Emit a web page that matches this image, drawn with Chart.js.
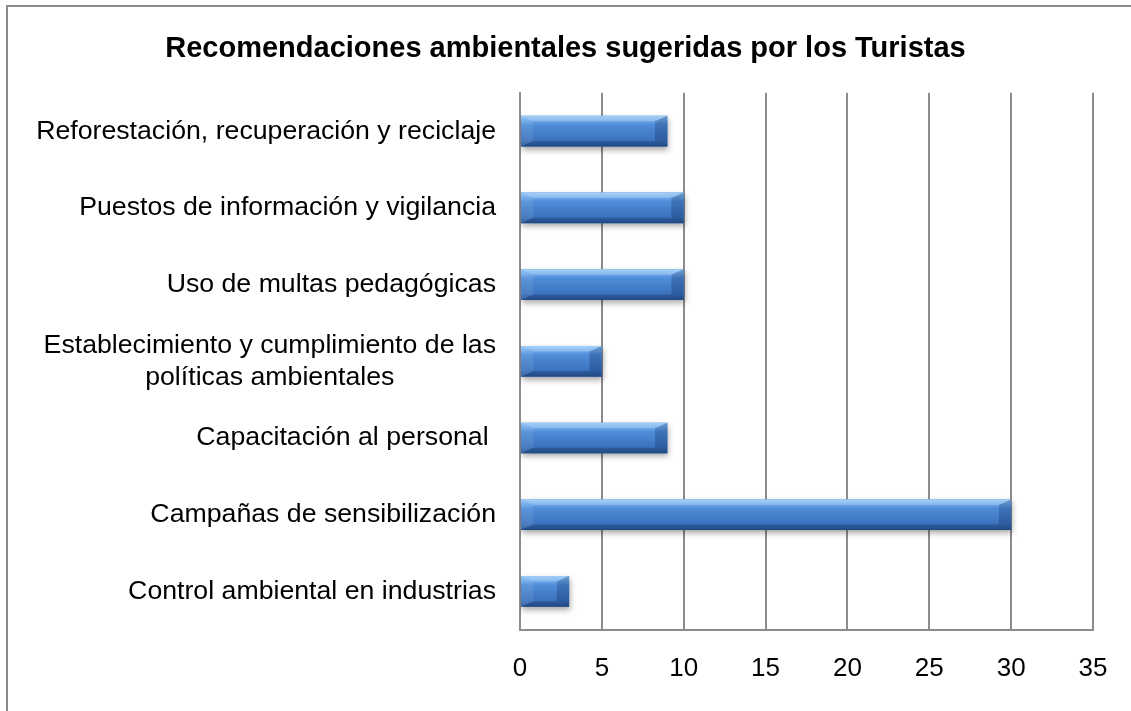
<!DOCTYPE html>
<html>
<head>
<meta charset="utf-8">
<script src="https://cdn.jsdelivr.net/npm/chart.js@4.4.1/dist/chart.umd.min.js"></script>
<style>
  html, body { margin: 0; padding: 0; background: #fff; overflow: hidden; }
  #frame { position: absolute; left: 6px; top: 5px; width: 1300px; height: 900px; border: 2px solid #8a8a8a; }
  #chart { position: absolute; left: 0; top: 0; }
</style>
</head>
<body>
<div id="frame"></div>
<canvas id="chart" width="1131" height="711"></canvas>
<script>
// datos
const titulo = "Recomendaciones ambientales sugeridas por los Turistas";
const categorias = [
    "Reforestación, recuperación y reciclaje",
    "Puestos de información y vigilancia",
    "Uso de multas pedagógicas",
    ["Establecimiento y cumplimiento de las", "políticas ambientales"],
    "Capacitación al personal ",
    "Campañas de sensibilización",
    "Control ambiental en industrias"
];
const valores = [9, 10, 10, 5, 9, 30, 3];
const ejeMin = 0, ejeMax = 35, ejePaso = 5;

const FONT = "'Liberation Sans', Arial, sans-serif";
const GRIS = "#8c8c8c";

// sombra debajo de las barras
const sombraPlugin = {
    id: 'sombra',
    beforeDatasetDraw(chart) {
        const ctx = chart.ctx;
        ctx.save();
        ctx.shadowColor = 'rgba(0,0,0,0.35)';
        ctx.shadowBlur = 6;
        ctx.shadowOffsetX = 1;
        ctx.shadowOffsetY = 3;
    },
    afterDatasetDraw(chart) { chart.ctx.restore(); }
};

// efecto bisel tipo Excel encima de cada barra
const biselPlugin = {
    id: 'bisel',
    afterDatasetsDraw(chart) {
        const ctx = chart.ctx;
        chart.getDatasetMeta(0).data.forEach(bar => {
            const p = bar.getProps(['x', 'y', 'base', 'height'], true);
            const x0 = Math.min(p.base, p.x), x1 = Math.max(p.base, p.x);
            const y0 = p.y - p.height / 2, y1 = p.y + p.height / 2;
            const b = Math.min(p.height * 0.4, (x1 - x0) / 2);
            ctx.save();
            const g = ctx.createLinearGradient(0, y0, 0, y1);
            g.addColorStop(0, '#8ec4f6');
            g.addColorStop(0.12, '#76b0ee');
            g.addColorStop(0.3, '#4f8cd8');
            g.addColorStop(0.8, '#3b72bd');
            g.addColorStop(1, '#2a5692');
            ctx.fillStyle = g;
            ctx.fillRect(x0, y0, x1 - x0, y1 - y0);
            const poly = (pts, col) => {
                ctx.beginPath();
                ctx.moveTo(pts[0][0], pts[0][1]);
                for (let i = 1; i < pts.length; i++) ctx.lineTo(pts[i][0], pts[i][1]);
                ctx.closePath();
                ctx.fillStyle = col; ctx.fill();
            };
            poly([[x0, y0], [x1, y0], [x1 - b, y0 + b * 0.45], [x0 + b, y0 + b * 0.45]], 'rgba(255,255,255,0.2)');
            poly([[x0, y1], [x1, y1], [x1 - b, y1 - b * 0.45], [x0 + b, y1 - b * 0.45]], 'rgba(0,20,60,0.2)');
            poly([[x0, y0], [x0 + b, y0 + b * 0.45], [x0 + b, y1 - b * 0.45], [x0, y1]], 'rgba(255,255,255,0.08)');
            poly([[x1, y0], [x1 - b, y0 + b * 0.45], [x1 - b, y1 - b * 0.45], [x1, y1]], 'rgba(0,20,60,0.22)');
            ctx.restore();
        });
    }
};

// etiquetas de categoria: alineadas a la derecha, lineas centradas entre si
const etiquetasPlugin = {
    id: 'etiquetas',
    afterDraw(chart) {
        const ctx = chart.ctx, ys = chart.scales.y;
        const derecha = ys.right - 24, alto = 32;
        ctx.save();
        ctx.font = "26.7px " + FONT;
        ctx.fillStyle = '#000';
        ctx.textAlign = 'center';
        ctx.textBaseline = 'middle';
        categorias.forEach((lab, i) => {
            const lineas = Array.isArray(lab) ? lab : [lab];
            const ancho = Math.max(...lineas.map(l => ctx.measureText(l).width));
            const cx = derecha - ancho / 2;
            const cy = ys.getPixelForValue(i);
            lineas.forEach((l, k) => {
                ctx.fillText(l, cx, cy + (k - (lineas.length - 1) / 2) * alto);
            });
        });
        ctx.restore();
    }
};

new Chart(document.getElementById('chart'), {
    type: 'bar',
    data: {
        labels: categorias,
        datasets: [{
            data: valores,
            backgroundColor: '#4a86d0',
            borderWidth: 0,
            barPercentage: 0.4,
            categoryPercentage: 1.0
        }]
    },
    options: {
        indexAxis: 'y',
        responsive: false,
        animation: false,
        devicePixelRatio: 1,
        layout: { padding: { left: 0, right: 0, top: 0, bottom: 4 } },
        plugins: {
            legend: { display: false },
            tooltip: { enabled: false },
            title: {
                display: true,
                text: titulo,
                color: '#000',
                font: { family: FONT, size: 29, weight: 'bold' },
                padding: { top: 32, bottom: 26 }
            }
        },
        scales: {
            x: {
                min: ejeMin, max: ejeMax,
                ticks: { stepSize: ejePaso, color: '#000', font: { family: FONT, size: 26 }, padding: 23 },
                grid: { color: GRIS, lineWidth: 2, drawTicks: false },
                border: { display: true, color: GRIS, width: 2 },
                afterFit(scale) { scale.paddingRight = 38; }
            },
            y: {
                ticks: { display: false },
                grid: { display: false },
                border: { display: true, color: GRIS, width: 2 },
                afterFit(scale) { scale.width = 520; }
            }
        }
    },
    plugins: [sombraPlugin, biselPlugin, etiquetasPlugin]
});
</script>
</body>
</html>
